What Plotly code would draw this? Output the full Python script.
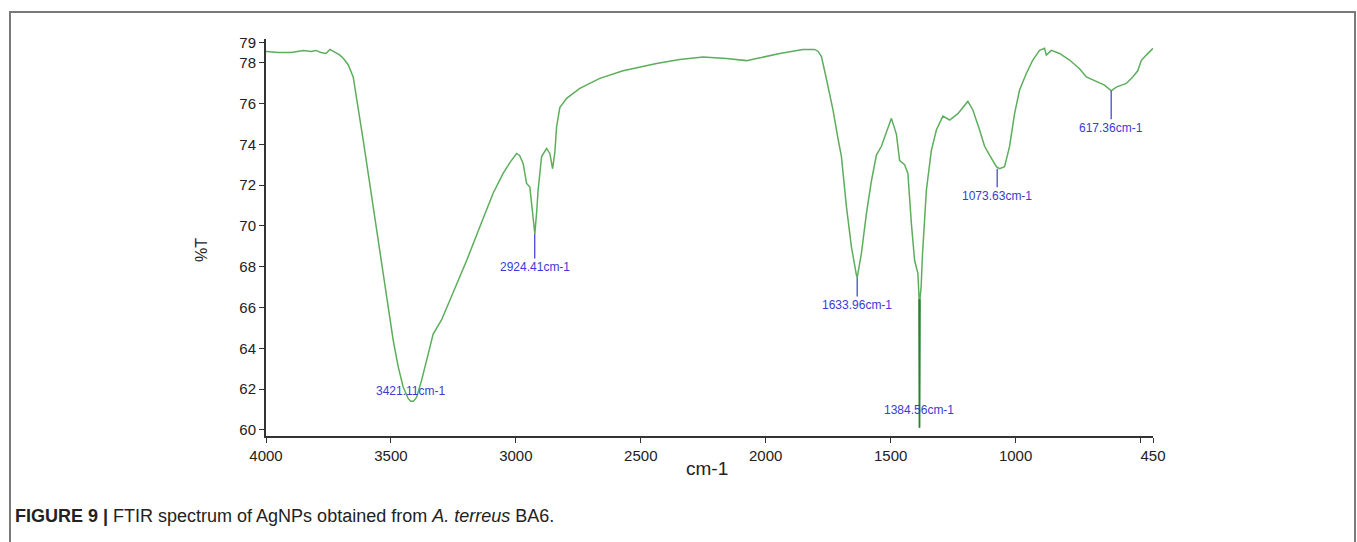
import plotly.graph_objects as go

# ---- data ----
wavenumber = [4000, 3950, 3900, 3870, 3850, 3820, 3800, 3780, 3760, 3744, 3720, 3704, 3690, 3671, 3651,
              3631, 3611, 3591, 3571, 3551, 3531, 3511, 3491, 3471, 3451, 3431, 3421, 3410, 3397, 3377,
              3357, 3331, 3297, 3251, 3197, 3144, 3091, 3051, 3024, 2997, 2985, 2971, 2957, 2944, 2935,
              2924, 2916, 2911, 2897, 2877, 2864, 2853, 2844, 2837, 2824, 2797, 2744, 2664, 2571, 2437,
              2344, 2251, 2157, 2077, 2037, 1944, 1851, 1804, 1790, 1777, 1757, 1731, 1711, 1697, 1677,
              1657, 1637, 1634, 1617, 1597, 1577, 1557, 1537, 1517, 1497, 1477, 1464, 1444, 1431, 1417,
              1404, 1391, 1386, 1384.56, 1383, 1378, 1373, 1357, 1337, 1317, 1291, 1264, 1231, 1191, 1171,
              1144, 1124, 1104, 1077, 1064, 1044, 1024, 1004, 984, 957, 931, 904, 884, 877, 857,
              824, 784, 744, 717, 677, 644, 617, 597, 557, 531, 511, 497, 477, 457, 450]
transmittance = [78.55, 78.5, 78.5, 78.55, 78.6, 78.55, 78.6, 78.5, 78.45, 78.65, 78.5, 78.37, 78.2, 77.9, 77.3,
                 75.84, 74.2, 72.57, 70.94, 69.3, 67.67, 66.03, 64.4, 63.1, 62.1, 61.54, 61.4, 61.4, 61.6, 62.44,
                 63.4, 64.7, 65.4, 66.7, 68.3, 69.96, 71.6, 72.57, 73.1, 73.55, 73.45, 73.06, 72.08, 71.9, 71.0,
                 69.6, 70.8, 71.75, 73.4, 73.8, 73.55, 72.8, 73.6, 74.86, 75.8, 76.25, 76.74, 77.23, 77.6, 77.96,
                 78.16, 78.28, 78.2, 78.1, 78.2, 78.45, 78.64, 78.65, 78.55, 78.3, 77.2, 75.7, 74.3, 73.39, 70.94,
                 68.97, 67.59, 67.45, 68.65, 70.6, 72.2, 73.47, 73.9, 74.6, 75.27, 74.5, 73.2, 73.0, 72.57, 70.1,
                 68.3, 67.67, 66.4, 60.1, 66.4, 67.0, 68.5, 71.75, 73.7, 74.7, 75.38, 75.19, 75.5, 76.1, 75.68,
                 74.7, 73.9, 73.47, 72.9, 72.8, 72.9, 73.9, 75.5, 76.66, 77.47, 78.13, 78.6, 78.7, 78.37, 78.6,
                 78.45, 78.13, 77.7, 77.3, 77.07, 76.9, 76.62, 76.8, 76.98, 77.3, 77.6, 78.1, 78.37, 78.6, 78.7]

peak_wn = [3421.11, 2924.41, 1633.96, 1384.56, 1073.63, 617.36]
peak_T = [61.4, 69.6, 67.45, 60.1, 72.8, 76.62]
peak_labels = ["3421.11cm-1", "2924.41cm-1", "1633.96cm-1", "1384.56cm-1", "1073.63cm-1", "617.36cm-1"]

x_tickvals = [4000, 3500, 3000, 2500, 2000, 1500, 1000, 500, 450]
x_ticktext = ["4000", "3500", "3000", "2500", "2000", "1500", "1000", "", "450"]
y_tickvals = [60, 62, 64, 66, 68, 70, 72, 74, 76, 78, 79]

caption = "<b>FIGURE 9 |</b> FTIR spectrum of AgNPs obtained from <i>A. terreus</i> BA6."

# ---- figure ----
W, H = 1357, 542
ml, mr, mt, mb = 266, 204, 39, 106
pw, ph = W - ml - mr, H - mt - mb

def px_x(p):
    return (p - ml) / pw

def px_y(p):
    return (H - mb - p) / ph

FONT = "Liberation Sans, Arial"

fig = go.Figure()
fig.add_trace(go.Scatter(x=wavenumber, y=transmittance, mode="lines",
                         line=dict(color="#5cae5c", width=1.5), hoverinfo="x+y"))

# darker spike at the sharp 1384 cm-1 band (slice of the same data)
i_spk = wavenumber.index(peak_wn[3])
fig.add_trace(go.Scatter(x=wavenumber[i_spk - 1:i_spk + 2], y=transmittance[i_spk - 1:i_spk + 2],
                         mode="lines", line=dict(color="#2e7d32", width=1.5), hoverinfo="skip"))

label_color = "#3a3ad6"
offsets = [-10, 33, 27, -18, 27, 37]
arrows = [False, True, True, False, True, True]
for w, t, lab, off, arr in zip(peak_wn, peak_T, peak_labels, offsets, arrows):
    if arr:
        fig.add_annotation(x=w, y=t, text=lab, showarrow=True, arrowhead=0, arrowwidth=1.2,
                           arrowcolor=label_color, ax=0, ay=off,
                           font=dict(family=FONT, size=12, color=label_color))
    else:
        fig.add_annotation(x=w, y=t, text=lab, showarrow=False, yshift=-off,
                           font=dict(family=FONT, size=12, color=label_color))

# axis titles
fig.add_annotation(xref="paper", yref="paper", x=px_x(707), y=px_y(468), text="cm-1",
                   xanchor="center", yanchor="middle",
                   showarrow=False, font=dict(family=FONT, size=19, color="#222"))
fig.add_annotation(xref="paper", yref="paper", x=px_x(201), y=px_y(250), text="%T", textangle=-90,
                   xanchor="center", yanchor="middle",
                   showarrow=False, font=dict(family=FONT, size=16, color="#222"))
# caption
fig.add_annotation(xref="paper", yref="paper", x=px_x(13), y=px_y(516), text=caption,
                   xanchor="left", yanchor="middle", showarrow=False,
                   font=dict(family=FONT, size=18, color="#222"))

# frame around the figure
fig.add_shape(type="rect", xref="paper", yref="paper",
              x0=px_x(10), x1=px_x(1355), y0=px_y(548), y1=px_y(12),
              line=dict(color="#7a7a7a", width=2))

fig.update_xaxes(range=[4000, 450], tickvals=x_tickvals, ticktext=x_ticktext,
                 showgrid=False, zeroline=False, showline=True, linecolor="#333", linewidth=2,
                 ticks="outside", ticklen=5, tickcolor="#333",
                 tickfont=dict(family=FONT, size=15, color="#222"))
fig.update_yaxes(range=[59.7, 79.16], tickvals=y_tickvals,
                 showgrid=False, zeroline=False, showline=True, linecolor="#333", linewidth=2,
                 ticks="outside", ticklen=5, tickcolor="#333",
                 tickfont=dict(family=FONT, size=15, color="#222"))

fig.update_layout(width=W, height=H, margin=dict(l=ml, r=mr, t=mt, b=mb),
                  paper_bgcolor="white", plot_bgcolor="white", showlegend=False)

fig.write_html("out.html")
